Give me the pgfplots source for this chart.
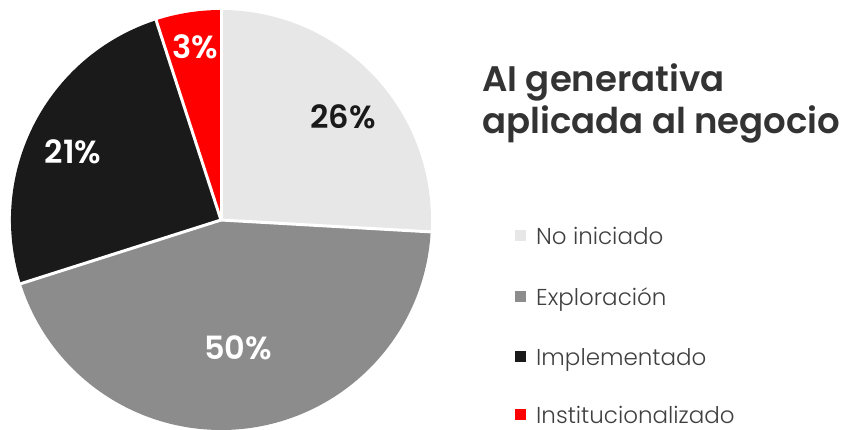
\documentclass[border=0pt]{standalone}
\usepackage{pgfplots}
\usepackage{pgfplotstable}
\pgfplotsset{compat=1.18}
\usepackage{fontspec}
\setmainfont{Poppins}
\newfontfamily\poplight{Poppins Light}
\newfontfamily\popsemi{Poppins SemiBold}
\definecolor{cNo}{HTML}{E7E7E7}
\definecolor{cExp}{HTML}{8C8C8C}
\definecolor{cImp}{HTML}{1A1A1A}
\definecolor{cInst}{HTML}{FF0000}
\definecolor{ctitle}{HTML}{333333}
\definecolor{clegend}{HTML}{404040}

% slice shares as drawn in the chart (percent of the full circle)
\pgfplotstableread{
idx value
0 25.9
1 44.2
2 24.9
3 5.0
}\piedata
\pgfplotstablegetelem{0}{value}\of\piedata \let\vA\pgfplotsretval
\pgfplotstablegetelem{1}{value}\of\piedata \let\vB\pgfplotsretval
\pgfplotstablegetelem{2}{value}\of\piedata \let\vC\pgfplotsretval
\pgfplotstablegetelem{3}{value}\of\piedata \let\vD\pgfplotsretval
\pgfmathsetmacro\aO{90}
\pgfmathsetmacro\aA{\aO-3.6*\vA}
\pgfmathsetmacro\aB{\aA-3.6*\vB}
\pgfmathsetmacro\aC{\aB-3.6*\vC}
\pgfmathsetmacro\aD{\aC-3.6*\vD}
\def\R{210pt}
\def\Rl{213pt}

\begin{document}
\begin{tikzpicture}
\begin{axis}[
  x=1pt, y=1pt,
  xmin=0, xmax=849, ymin=0, ymax=429,
  hide axis, clip=false,
]
\coordinate (ll) at (axis cs:0,0);
\coordinate (ur) at (axis cs:849,429);
\fill[cNo]   (axis cs:221,209) -- ([shift={(\aO:\R)}]axis cs:221,209) arc[start angle=\aO, end angle=\aA, radius=\R] -- cycle;
\fill[cExp]  (axis cs:221,209) -- ([shift={(\aA:\R)}]axis cs:221,209) arc[start angle=\aA, end angle=\aB, radius=\R] -- cycle;
\fill[cImp]  (axis cs:221,209) -- ([shift={(\aB:\R)}]axis cs:221,209) arc[start angle=\aB, end angle=\aC, radius=\R] -- cycle;
\fill[cInst] (axis cs:221,209) -- ([shift={(\aC:\R)}]axis cs:221,209) arc[start angle=\aC, end angle=\aD, radius=\R] -- cycle;
\draw[white, line width=3pt] (axis cs:221,209) -- ([shift={(\aO:\Rl)}]axis cs:221,209);
\draw[white, line width=3pt] (axis cs:221,209) -- ([shift={(\aA:\Rl)}]axis cs:221,209);
\draw[white, line width=3pt] (axis cs:221,209) -- ([shift={(\aB:\Rl)}]axis cs:221,209);
\draw[white, line width=3pt] (axis cs:221,209) -- ([shift={(\aC:\Rl)}]axis cs:221,209);
% slice labels
\node[font=\popsemi\fontsize{32}{32}\selectfont, text=cImp] at (axis cs:343,312) {26\%};
\node[font=\popsemi\fontsize{32}{32}\selectfont, text=white] at (axis cs:238,81) {50\%};
\node[font=\popsemi\fontsize{32}{32}\selectfont, text=white] at (axis cs:73,277) {21\%};
\node[font=\popsemi\fontsize{32}{32}\selectfont, text=white] at (axis cs:195,382) {3\%};
% title
\node[anchor=base west, inner sep=0pt, font=\popsemi\fontsize{35.5}{35.5}\selectfont, text=ctitle] at (axis cs:482,337) {AI generativa};
\node[anchor=base west, inner sep=0pt, font=\popsemi\fontsize{35.5}{35.5}\selectfont, text=ctitle] at (axis cs:482,295) {aplicada al negocio};
% legend
\fill[cNo]   (axis cs:515,187.5) rectangle (axis cs:526,198.5);
\fill[cExp]  (axis cs:515,127.5) rectangle (axis cs:526,138.5);
\fill[cImp]  (axis cs:515,67.5) rectangle (axis cs:526,78.5);
\fill[cInst] (axis cs:515,9.5) rectangle (axis cs:526,20.5);
\node[anchor=base west, inner sep=0pt, font=\poplight\fontsize{23}{23}\selectfont, text=clegend] at (axis cs:536,184) {No iniciado};
\node[anchor=base west, inner sep=0pt, font=\poplight\fontsize{23}{23}\selectfont, text=clegend] at (axis cs:536,124) {Exploración};
\node[anchor=base west, inner sep=0pt, font=\poplight\fontsize{23}{23}\selectfont, text=clegend] at (axis cs:536,64) {Implementado};
\node[anchor=base west, inner sep=0pt, font=\poplight\fontsize{23}{23}\selectfont, text=clegend] at (axis cs:536,6) {Institucionalizado};
\end{axis}
\pgfresetboundingbox
\useasboundingbox (ll) rectangle (ur);
\end{tikzpicture}
\end{document}
